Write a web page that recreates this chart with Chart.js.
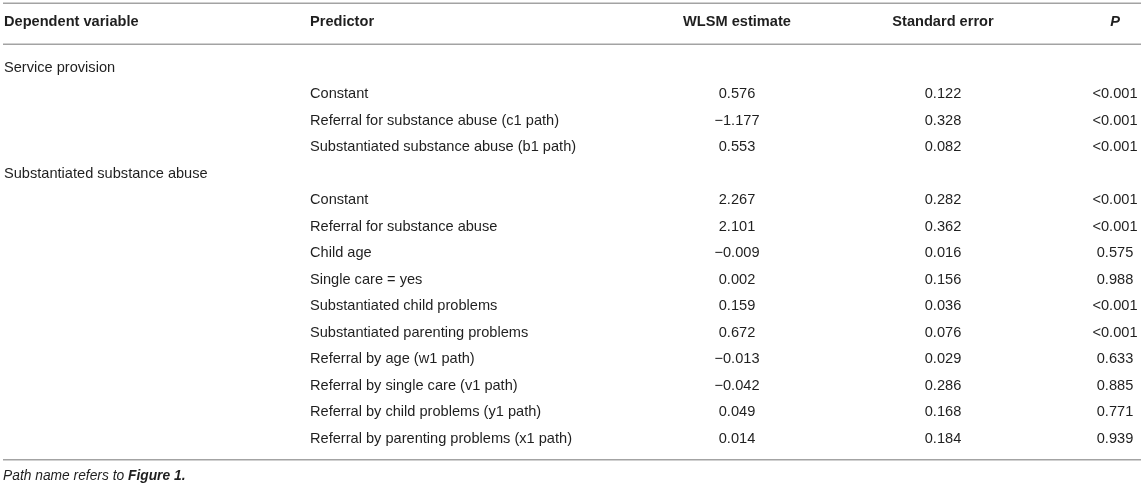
<!DOCTYPE html>
<html>
<head>
<meta charset="utf-8">
<script src="https://cdn.jsdelivr.net/npm/chart.js@4/dist/chart.umd.min.js"></script>
<style>
  body { margin: 0; background: #fff; }
  #wrap { width: 1145px; height: 487px; }
</style>
</head>
<body>
<div id="wrap"><canvas id="tableChart"></canvas></div>
<script>
// table content
const headers = ['Dependent variable', 'Predictor', 'WLSM estimate', 'Standard error', 'P'];
const depVars = ['Service provision', 'Substantiated substance abuse'];
const groupSizes = [3, 10];
const predictors = [
  'Constant',
  'Referral for substance abuse (c1 path)',
  'Substantiated substance abuse (b1 path)',
  'Constant',
  'Referral for substance abuse',
  'Child age',
  'Single care = yes',
  'Substantiated child problems',
  'Substantiated parenting problems',
  'Referral by age (w1 path)',
  'Referral by single care (v1 path)',
  'Referral by child problems (y1 path)',
  'Referral by parenting problems (x1 path)'
];
const estimates = [0.576, -1.177, 0.553, 2.267, 2.101, -0.009, 0.002, 0.159, 0.672, -0.013, -0.042, 0.049, 0.014];
const stdErrors = [0.122, 0.328, 0.082, 0.282, 0.362, 0.016, 0.156, 0.036, 0.076, 0.029, 0.286, 0.168, 0.184];
const pValues = ['<0.001', '<0.001', '<0.001', '<0.001', '<0.001', '0.575', '0.988', '<0.001', '<0.001', '0.633', '0.885', '0.771', '0.939'];
const footnote = 'Path name refers to ';
const footnoteRef = 'Figure 1.';

// layout: column anchors (x axis units) and row positions (y axis units)
const colX = [4, 310, 737, 943, 1115];
const colAlign = ['left', 'left', 'center', 'center', 'center'];
const headerRow = -1.7;
const ruleRows = [-2.42, -0.88, 14.8];
const footRow = 15.42;

const fmt = v => (v < 0 ? '\u2212' : '') + Math.abs(v).toFixed(3);

// work out which row each entry sits on
const groupRows = [];
const predRows = [];
let r = 0;
groupSizes.forEach(n => {
  groupRows.push(r++);
  for (let i = 0; i < n; i++) predRows.push(r++);
});

function cellSet(col, rows, texts) {
  return {
    data: rows.map(y => ({ x: colX[col], y: y })),
    texts: texts,
    align: colAlign[col],
    pointRadius: 0,
    showLine: false
  };
}

const datasets = [
  cellSet(0, groupRows, depVars),
  cellSet(1, predRows, predictors),
  cellSet(2, predRows, estimates.map(fmt)),
  cellSet(3, predRows, stdErrors.map(fmt)),
  cellSet(4, predRows, pValues)
];

const FONT = '"Liberation Sans", Arial, Helvetica, sans-serif';

const tablePlugin = {
  id: 'tableText',
  afterDatasetsDraw(chart) {
    const ctx = chart.ctx;
    const xs = chart.scales.x, ys = chart.scales.y;
    ctx.save();

    // rules
    ctx.strokeStyle = '#a3a3a3';
    ctx.lineWidth = 1.5;
    ruleRows.forEach(v => {
      const y = ys.getPixelForValue(v);
      ctx.beginPath();
      ctx.moveTo(xs.getPixelForValue(3), y);
      ctx.lineTo(xs.getPixelForValue(1141), y);
      ctx.stroke();
    });

    ctx.fillStyle = '#1f1f1f';
    ctx.textBaseline = 'middle';

    // header
    headers.forEach((h, i) => {
      ctx.font = (i === 4 ? 'italic bold ' : 'bold ') + '14.6px ' + FONT;
      ctx.textAlign = colAlign[i];
      ctx.fillText(h, xs.getPixelForValue(colX[i]), ys.getPixelForValue(headerRow));
    });

    // body cells
    ctx.font = '14.6px ' + FONT;
    chart.data.datasets.forEach((ds, i) => {
      ctx.textAlign = ds.align;
      chart.getDatasetMeta(i).data.forEach((pt, j) => {
        ctx.fillText(ds.texts[j], pt.x, pt.y);
      });
    });

    // footnote
    const fy = ys.getPixelForValue(footRow);
    let fx = xs.getPixelForValue(3);
    ctx.textAlign = 'left';
    ctx.font = 'italic 13.8px ' + FONT;
    ctx.fillText(footnote, fx, fy);
    fx += ctx.measureText(footnote).width;
    ctx.font = 'italic bold 13.8px ' + FONT;
    ctx.fillText(footnoteRef, fx, fy);

    ctx.restore();
  }
};

new Chart(document.getElementById('tableChart'), {
  type: 'scatter',
  data: { datasets: datasets },
  options: {
    responsive: true,
    maintainAspectRatio: false,
    animation: false,
    layout: { padding: 0 },
    plugins: { legend: { display: false }, tooltip: { enabled: false } },
    scales: {
      x: { type: 'linear', min: 0, max: 1145, display: false },
      y: { type: 'linear', min: -2.547, max: 15.83, reverse: true, display: false }
    }
  },
  plugins: [tablePlugin]
});
</script>
</body>
</html>
